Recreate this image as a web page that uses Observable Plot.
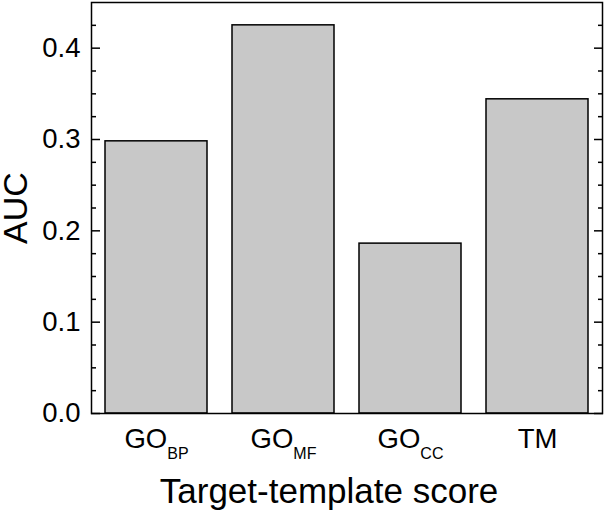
<!DOCTYPE html>
<html><head><meta charset="utf-8">
<script src="https://cdn.jsdelivr.net/npm/d3@7"></script>
<script src="https://cdn.jsdelivr.net/npm/@observablehq/plot@0.6"></script>
<style>
body{margin:0;background:#fff}
</style>
</head><body><div id="chart"></div>
<script>
const categories = ["GO_BP", "GO_MF", "GO_CC", "TM"];
const aucValues = [0.298, 0.425, 0.186, 0.344];
const majorTicks = [0, 0.1, 0.2, 0.3, 0.4];
const minorTicks = [0.025, 0.05, 0.075, 0.125, 0.15, 0.175, 0.225, 0.25, 0.275, 0.325, 0.35, 0.375, 0.425];
const yDomain = [0, 0.45];
const yTitle = "AUC";
const xTitle = "Target-template score";

const data = categories.map((c, i) => ({cat: c, auc: aucValues[i]}));
const font = "'Liberation Sans', Arial, Helvetica, sans-serif";

const chart = Plot.plot({
  width: 606,
  height: 515,
  marginLeft: 91,
  marginRight: 4,
  marginTop: 2,
  marginBottom: 102,
  style: {fontFamily: font, color: "#000", background: "#fff", overflow: "visible"},
  x: {domain: categories, paddingInner: 0.2, paddingOuter: 0.1},
  y: {domain: yDomain},
  marks: [
    Plot.barY(data, {x: "cat", y: "auc", fill: "#c8c8c8", stroke: "#000", strokeWidth: 1.5}),
    Plot.axisY({anchor: "left", ticks: majorTicks, tickSize: -9, tickPadding: 20, strokeWidth: 1.5,
      fontSize: 27.5, tickFormat: d3.format(".1f"), label: yTitle, labelArrow: false, labelAnchor: "center", labelOffset: 89}),
    Plot.axisY({anchor: "left", ticks: minorTicks, tickSize: -5, strokeWidth: 1.5, tickFormat: () => "", label: null}),
    Plot.axisY({anchor: "right", ticks: majorTicks, tickSize: -9, strokeWidth: 1.5, tickFormat: () => "", label: null}),
    Plot.axisY({anchor: "right", ticks: minorTicks, tickSize: -5, strokeWidth: 1.5, tickFormat: () => "", label: null}),
    Plot.axisX({anchor: "bottom", tickSize: 0, tickPadding: 15, fontSize: 27.5,
      label: xTitle, labelArrow: false, labelAnchor: "center", labelOffset: 89}),
    Plot.frame({stroke: "#000", strokeWidth: 1.5})
  ]
});
document.getElementById("chart").appendChild(chart);

const svg = d3.select(chart);
// axis titles: larger font; x title shifted slightly left as in the reference
svg.selectAll("text").filter(function() { return this.textContent === xTitle; })
  .attr("font-size", 35).style("font-size", "35px").attr("dx", -18);
svg.selectAll("text").filter(function() { return this.textContent === yTitle; })
  .attr("font-size", 34).style("font-size", "34px");

// subscripts in the x tick labels (e.g. GO_BP -> GO with subscript BP)
svg.selectAll("text").filter(function() { return categories.includes(this.textContent); }).each(function() {
  const t = d3.select(this);
  const parts = t.text().split("_");
  if (parts.length === 2) {
    t.text(null);
    t.append("tspan").text(parts[0]);
    t.append("tspan").attr("font-size", 16).attr("dy", 11).text(parts[1]);
  }
});
</script>
</body></html>
